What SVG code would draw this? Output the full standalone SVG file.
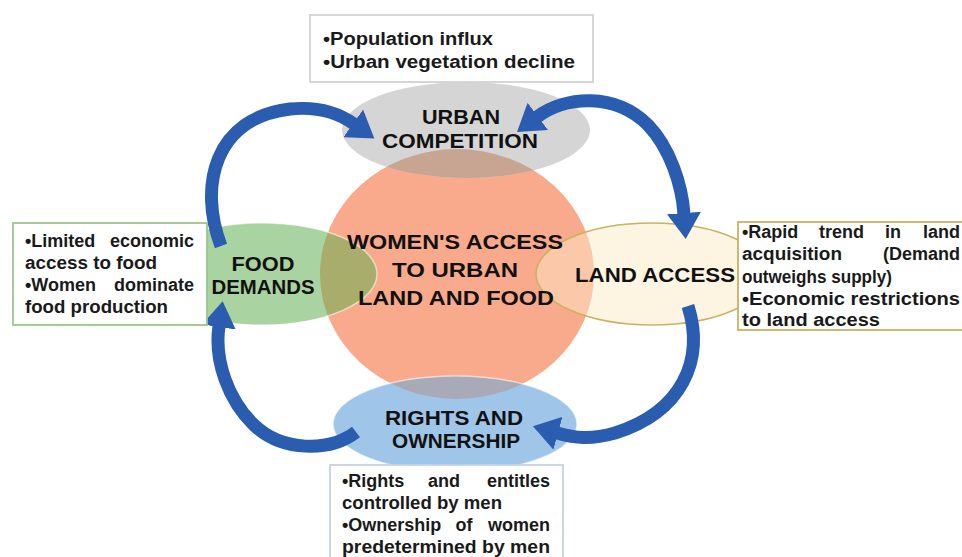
<svg xmlns="http://www.w3.org/2000/svg" width="962" height="557" viewBox="0 0 962 557">
<defs>
<style>
.lbl{font-family:"Liberation Sans",Arial,sans-serif;font-weight:bold;font-size:21px;fill:#111;text-anchor:middle}
.note{font-family:"Liberation Sans",Arial,sans-serif;font-weight:bold;font-size:18px;fill:#1a1a1a}
.end{text-anchor:end}
.mid{text-anchor:middle}
.arrow{fill:none;stroke:#2a5db0;stroke-width:13}
.edge{fill:none;stroke:#ffffff;stroke-opacity:0.55;stroke-width:1.5}
.box{fill:#ffffff;stroke-width:1.8}
</style>
<clipPath id="cc"><ellipse cx="457" cy="274" rx="137" ry="125"/></clipPath>
<marker id="head" markerUnits="userSpaceOnUse" markerWidth="28" markerHeight="34" refX="1" refY="17" orient="auto-start-reverse" viewBox="0 0 28 34">
<path d="M0,0 L26,17 L0,34 Z" fill="#2a5db0"/>
</marker>
</defs>
<rect width="962" height="557" fill="#ffffff"/>

<g id="node-center">
<ellipse cx="457" cy="274" rx="137" ry="125" fill="#f9aa8c"/>
</g>

<g id="node-urban">
<ellipse cx="466" cy="130" rx="124" ry="48" fill="#d5d5d5"/>
<ellipse cx="466" cy="130" rx="124" ry="48" fill="#c8a593" clip-path="url(#cc)"/>
<text class="lbl" x="461" y="124" textLength="78" lengthAdjust="spacingAndGlyphs">URBAN</text>
<text class="lbl" x="460" y="148" textLength="156" lengthAdjust="spacingAndGlyphs">COMPETITION</text>
</g>

<g id="node-food">
<ellipse cx="262" cy="274" rx="115" ry="51" fill="#a9d3a1"/>
<ellipse cx="262" cy="274" rx="115" ry="51" fill="#a9ad6b" clip-path="url(#cc)"/>
<ellipse class="edge" cx="262" cy="274" rx="115" ry="51"/>
<text class="lbl" x="263" y="271" textLength="63" lengthAdjust="spacingAndGlyphs">FOOD</text>
<text class="lbl" x="263" y="294" textLength="103" lengthAdjust="spacingAndGlyphs">DEMANDS</text>
</g>

<g id="node-land">
<ellipse cx="652" cy="274" rx="116" ry="51" fill="#fdf4e1"/>
<ellipse cx="652" cy="274" rx="116" ry="51" fill="#fbc8aa" clip-path="url(#cc)"/>
<ellipse cx="652" cy="274" rx="116" ry="51" fill="none" stroke="#c9b35e" stroke-width="1.6"/>
<text class="lbl" x="655" y="282" font-size="22" textLength="160" lengthAdjust="spacingAndGlyphs">LAND ACCESS</text>
</g>

<g id="node-rights">
<ellipse cx="455" cy="424" rx="122" ry="48" fill="#9fc6e9"/>
<ellipse cx="455" cy="424" rx="122" ry="48" fill="#a8aab7" clip-path="url(#cc)"/>
<ellipse class="edge" cx="455" cy="424" rx="122" ry="48"/>
<text class="lbl" x="454" y="425" textLength="138" lengthAdjust="spacingAndGlyphs">RIGHTS AND</text>
<text class="lbl" x="456" y="448" textLength="128" lengthAdjust="spacingAndGlyphs">OWNERSHIP</text>
</g>

<g id="node-center-label">
<text class="lbl" x="455" y="249" font-size="23" textLength="216" lengthAdjust="spacingAndGlyphs">WOMEN'S ACCESS</text>
<text class="lbl" x="455" y="277" font-size="23" textLength="126" lengthAdjust="spacingAndGlyphs">TO URBAN</text>
<text class="lbl" x="456" y="305" font-size="23" textLength="196" lengthAdjust="spacingAndGlyphs">LAND AND FOOD</text>
</g>

<g id="connectors">
<path class="arrow" d="M221,246 C198,185 215,118 290,109 C320,106 340,114 354,124" marker-end="url(#head)"/>
<path class="arrow" d="M537,117 C565,96 615,92 648,125 C670,148 682,185 684,214" marker-start="url(#head)" marker-end="url(#head)"/>
<path class="arrow" d="M688,306 C705,360 682,412 615,433 C590,440 575,438 557,433" marker-end="url(#head)"/>
<path class="arrow" d="M356,432 C330,452 282,452 254,425 C228,400 214,360 219,326" marker-end="url(#head)"/>
</g>

<g id="note-urban">
<rect class="box" x="310" y="15" width="283" height="67" stroke="#d2d2d2"/>
<text class="note" font-size="19" x="323" y="45" textLength="170" lengthAdjust="spacingAndGlyphs">•Population influx</text>
<text class="note" font-size="19" x="323" y="68" textLength="252" lengthAdjust="spacingAndGlyphs">•Urban vegetation decline</text>
</g>

<g id="note-food">
<rect class="box" x="13" y="223" width="194" height="102" stroke="#9cc58a"/>
<text class="note" x="25" y="247">•Limited</text>
<text class="note end" x="194" y="247">economic</text>
<text class="note" x="25" y="269" textLength="132" lengthAdjust="spacingAndGlyphs">access to food</text>
<text class="note" x="25" y="291">•Women</text>
<text class="note end" x="194" y="291">dominate</text>
<text class="note" x="25" y="313" textLength="143" lengthAdjust="spacingAndGlyphs">food production</text>
</g>

<g id="note-land">
<rect class="box" x="738" y="222" width="240" height="108" stroke="#c9b35e"/>
<text class="note" x="742" y="238">•Rapid</text>
<text class="note" x="819" y="238">trend</text>
<text class="note" x="885" y="238">in</text>
<text class="note end" x="960" y="238">land</text>
<text class="note" x="742" y="260" textLength="100" lengthAdjust="spacingAndGlyphs">acquisition</text>
<text class="note end" x="960" y="260">(Demand</text>
<text class="note" x="742" y="283" textLength="150" lengthAdjust="spacingAndGlyphs">outweighs supply)</text>
<text class="note" x="742" y="305" textLength="218" lengthAdjust="spacingAndGlyphs">•Economic restrictions</text>
<text class="note" x="742" y="326" textLength="138" lengthAdjust="spacingAndGlyphs">to land access</text>
</g>

<g id="note-rights">
<rect class="box" x="330" y="465" width="233" height="100" stroke="#c5d3e0"/>
<text class="note" x="342" y="487">•Rights</text>
<text class="note mid" x="444" y="487">and</text>
<text class="note end" x="550" y="487">entitles</text>
<text class="note" x="342" y="509" textLength="160" lengthAdjust="spacingAndGlyphs">controlled by men</text>
<text class="note" x="342" y="531">•Ownership</text>
<text class="note mid" x="464" y="531">of</text>
<text class="note end" x="550" y="531">women</text>
<text class="note" x="342" y="553" textLength="208" lengthAdjust="spacingAndGlyphs">predetermined by men</text>
</g>
</svg>
